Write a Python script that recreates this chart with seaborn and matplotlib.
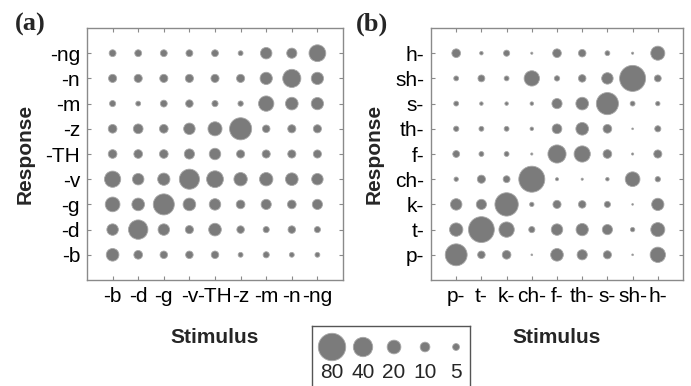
import numpy as np
import pandas as pd
import matplotlib
matplotlib.use("Agg")
import matplotlib.pyplot as plt
import seaborn as sns

# stimulus (x) and response (y) labels, responses listed top to bottom
stim_a = ["-b", "-d", "-g", "-v", "-TH", "-z", "-m", "-n", "-ng"]
resp_a = ["-ng", "-n", "-m", "-z", "-TH", "-v", "-g", "-d", "-b"]
stim_b = ["p-", "t-", "k-", "ch-", "f-", "th-", "s-", "sh-", "h-"]
resp_b = ["h-", "sh-", "s-", "th-", "f-", "ch-", "k-", "t-", "p-"]

# confusion values (rows = response, top to bottom)
conf_a = [
    [5, 5, 5, 5, 5, 2.5, 14, 11, 30],
    [7, 7, 7, 7, 7, 7, 16, 35, 16],
    [4, 2.5, 5, 6, 4, 3, 25, 17, 16],
    [8, 10, 8, 14, 21, 52, 6, 7, 7],
    [8, 8, 8, 11, 14, 7, 7, 7, 7],
    [28, 14, 16, 43, 30, 19, 19, 17, 14],
    [23, 17, 47, 17, 14, 8, 11, 8, 11],
    [14, 40, 14, 7, 17, 6, 4, 6, 4],
    [17, 8, 6, 6, 6, 2.5, 4, 2.5, 2.5],
]
conf_b = [
    [8, 1.3, 4, 0.5, 8, 6, 2.5, 0.5, 21],
    [2.5, 5, 2.5, 25, 3, 6, 14, 72, 5],
    [2.5, 1.3, 1.3, 1.3, 11, 17, 52, 2.5, 2],
    [3, 2.5, 2.5, 1.3, 10, 17, 8, 0.3, 4],
    [5, 2.5, 2.5, 0.5, 35, 28, 8, 0.5, 7],
    [2, 7, 5, 72, 1, 0.5, 1.3, 23, 3],
    [14, 11, 58, 2, 7, 6, 4, 0.3, 16],
    [19, 71, 25, 4, 14, 16, 11, 2, 21],
    [51, 6, 8, 0.3, 17, 11, 7, 0.3, 25],
]
legend_vals = [80, 40, 20, 10, 5]

sns.set_theme(style="white")
plt.rcParams["font.family"] = ["Liberation Sans", "DejaVu Sans"]

DOT = "#7b7b7b"
HALO = "#a8a8a8"
EDGE = "#8a8a8a"
SIZES = (0, 390)
NORM = (0, 80)


def to_long(stim, resp, conf):
    rows = []
    # bottom response first so it lands at y=0
    for i in range(len(resp) - 1, -1, -1):
        for j, s in enumerate(stim):
            rows.append({"stim": s, "resp": resp[i], "val": conf[i][j]})
    return pd.DataFrame(rows)


def bubble_panel(ax, stim, resp, conf):
    df = to_long(stim, resp, conf)
    sns.scatterplot(data=df, x="stim", y="resp", size="val", sizes=SIZES,
                    size_norm=NORM, color=DOT, edgecolor=HALO, linewidth=0.6,
                    legend=False, ax=ax)
    ax.set_xlim(-1, len(stim))
    ax.set_ylim(-1, len(resp))
    ax.set_xticks(range(len(stim)))
    ax.set_xticklabels(stim)
    ax.set_yticks(range(len(resp)))
    ax.set_yticklabels(resp[::-1])
    ax.tick_params(direction="in", length=3, width=0.8, color=EDGE,
                   labelsize=15, labelcolor="black", pad=5,
                   top=True, right=True, bottom=True, left=True)
    for sp in ax.spines.values():
        sp.set_color(EDGE)
        sp.set_linewidth(1.0)
    ax.set_xlabel("Stimulus", fontsize=15, fontweight="bold", labelpad=16)
    ax.set_ylabel("Response", fontsize=15, fontweight="bold", labelpad=8)


fig = plt.figure(figsize=(6.91, 3.86), dpi=100)
ax_a = fig.add_axes([87 / 691, 106 / 386, 256 / 691, 252 / 386])
ax_b = fig.add_axes([431 / 691, 106 / 386, 252 / 691, 252 / 386])
bubble_panel(ax_a, stim_a, resp_a, conf_a)
bubble_panel(ax_b, stim_b, resp_b, conf_b)

# panel tags
for tag, px in [("(a)", 15), ("(b)", 356)]:
    fig.text(px / 691, 1 - 24 / 386, tag, fontsize=19, fontweight="bold",
             family="Liberation Serif", va="center", ha="left")

# size key
ax_l = fig.add_axes([312 / 691, -2 / 386, 158 / 691, 62 / 386])
leg = pd.DataFrame({"lab": [str(v) for v in legend_vals], "val": legend_vals,
                    "row": [1] * len(legend_vals)})
sns.scatterplot(data=leg, x="lab", y="row", size="val", sizes=SIZES,
                size_norm=NORM, color=DOT, edgecolor=HALO, linewidth=0.6,
                legend=False, ax=ax_l)
for k, v in enumerate(legend_vals):
    ax_l.text(k, 0, str(v), ha="center", va="center", fontsize=15)
ax_l.set_xlim(-0.645, 4.45)
ax_l.set_ylim(-0.64, 1.84)
ax_l.set_xticks([])
ax_l.set_yticks([])
ax_l.set_xlabel("")
ax_l.set_ylabel("")
for sp in ax_l.spines.values():
    sp.set_color("#555555")
    sp.set_linewidth(1.0)

fig.savefig("out.png", dpi=100)
